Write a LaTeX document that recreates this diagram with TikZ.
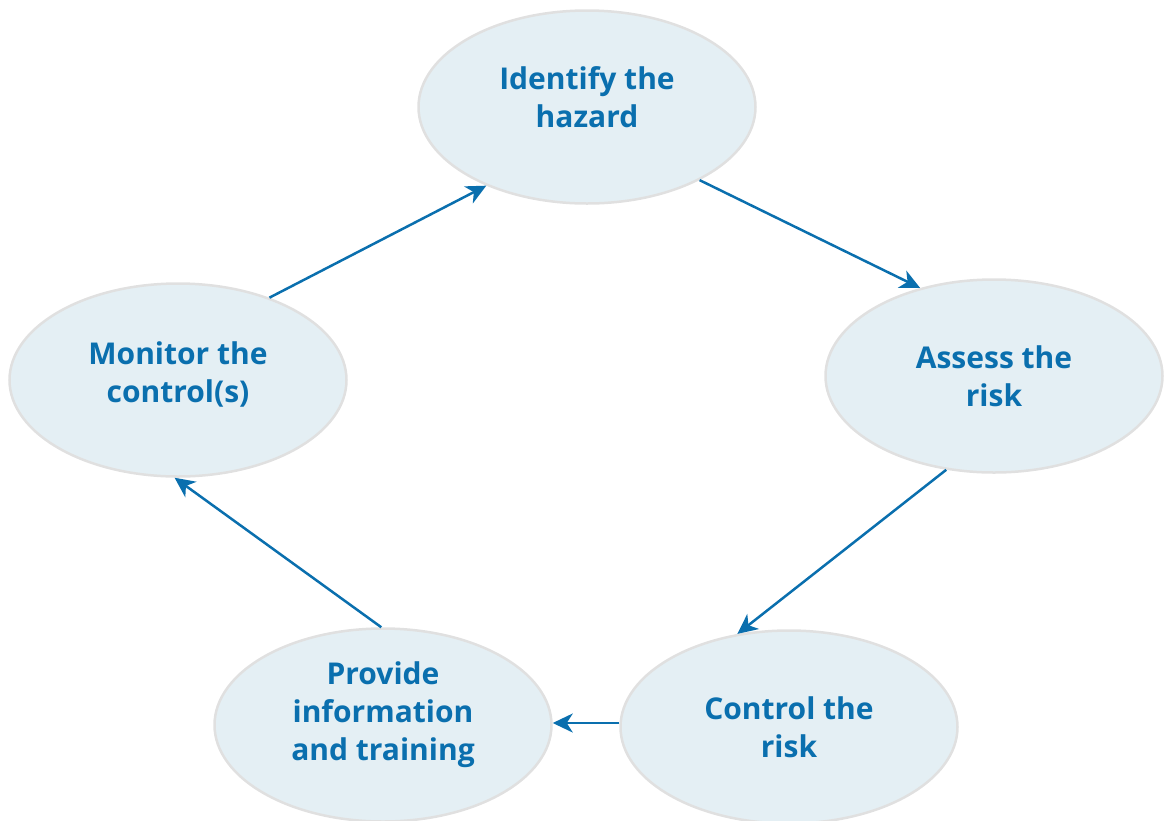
\documentclass[tikz,border=0pt]{standalone}
\usepackage{fontspec}
\setmainfont{Open Sans}
\usetikzlibrary{shapes.geometric}
\usetikzlibrary{arrows.meta}
\definecolor{riskblue}{HTML}{0A6FAE}
\definecolor{riskfill}{HTML}{E4EFF4}
\definecolor{riskedge}{HTML}{E0E0E0}
\tikzset{blob/.style={ellipse,fill=riskfill,draw=riskedge,line width=2.5pt,minimum width=337pt,minimum height=193pt,inner sep=0pt},
txt/.style={text=riskblue,font=\fontsize{30}{38}\selectfont\bfseries,align=center},
flow/.style={draw=riskblue,line width=2.5pt,-{Stealth[length=20pt,width=19pt,inset=6pt]}}}
\begin{document}
\begin{tikzpicture}[x=1pt,y=-1pt]%risk cycle
\useasboundingbox (0,0) rectangle (1165,820);
\clip (0,0) rectangle (1165,820);
\node[blob,label={[txt,yshift=10pt]center:Identify the\\hazard}] (idf) at (587,107) {};
\node[blob,label={[txt]center:Assess the\\risk}] (asr) at (994,376) {};
\node[blob,label={[txt]center:Control the\\risk}] (ctl) at (789,727) {};
\node[blob,label={[txt,yshift=10pt]center:Provide\\information\\and training}] (prv) at (383,725) {};
\node[blob,label={[txt,yshift=6pt]center:Monitor the\\control(s)}] (mon) at (178,380) {};
\draw[flow] (mon.42) -- (idf.218);
\draw[flow] (idf.-33) -- (asr.130);
\draw[flow] (asr.243) -- (ctl.119);
\draw[flow] ([yshift=4pt]ctl.west) -- ([yshift=4pt]ctl.west -| prv.east);
\draw[flow] (prv.91) -- (mon.268);
\end{tikzpicture}
\end{document}
